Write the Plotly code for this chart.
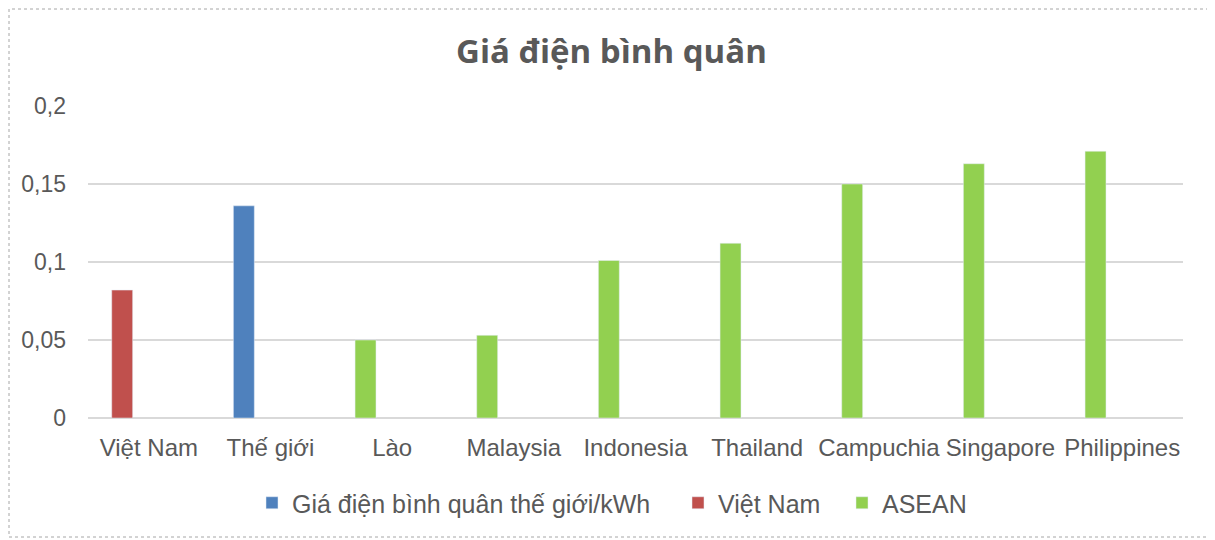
import plotly.graph_objects as go

categories = ["Việt Nam", "Thế giới", "Lào", "Malaysia", "Indonesia",
              "Thailand", "Campuchia", "Singapore", "Philippines"]

world_cats = ["Thế giới"]
world_vals = [0.136]

vn_cats = ["Việt Nam"]
vn_vals = [0.082]

asean_cats = ["Lào", "Malaysia", "Indonesia", "Thailand",
              "Campuchia", "Singapore", "Philippines"]
asean_vals = [0.050, 0.053, 0.101, 0.112, 0.150, 0.163, 0.171]

y_ticks = [0, 0.05, 0.1, 0.15, 0.2]
y_labels = ["0", "0,05", "0,1", "0,15", "0,2"]

BAR_W = 0.172
BAR_OFF = -0.305

# screen px -> paper coords (plot area spans 88..1183 x, 106..418 y)
def px(x):
    return (x - 88) / 1095

def py(y):
    return (418 - y) / 312

fig = go.Figure()
fig.add_trace(go.Bar(name="Giá điện bình quân thế giới/kWh", x=world_cats, y=world_vals,
                     marker_color="#4F81BD", width=BAR_W, offset=BAR_OFF, legend="legend"))
fig.add_trace(go.Bar(name="Việt Nam", x=vn_cats, y=vn_vals,
                     marker_color="#C0504D", width=BAR_W, offset=BAR_OFF, legend="legend2"))
fig.add_trace(go.Bar(name="ASEAN", x=asean_cats, y=asean_vals,
                     marker_color="#92D050", width=BAR_W, offset=BAR_OFF, legend="legend3"))

leg_font = dict(family="Liberation Sans", size=25, color="#595959")
def leg(xs):
    return dict(orientation="h", x=px(xs), xanchor="left", y=py(503), yanchor="middle",
                font=leg_font, itemwidth=30, bgcolor="rgba(0,0,0,0)")

fig.update_layout(
    width=1207, height=532,
    margin=dict(l=80, r=32, t=98, b=122, autoexpand=False),
    paper_bgcolor="white", plot_bgcolor="white",
    barmode="overlay",
    title=dict(text="<b>Giá điện bình quân</b>", x=0.5, xanchor="center",
               y=0.918, yanchor="middle",
               font=dict(family="Open Sans", size=33, color="#595959")),
    font=dict(family="Liberation Sans", color="#595959"),
    showlegend=True,
    legend=leg(252),
    legend2=leg(678),
    legend3=leg(842),
    xaxis=dict(type="category", categoryorder="array", categoryarray=categories,
               range=[-0.5, len(categories) - 0.5], tickangle=0, automargin=False,
               tickfont=dict(family="Liberation Sans", size=24, color="#595959"),
               showgrid=False, showline=False, ticks="", ticklabelstandoff=13),
    yaxis=dict(range=[0, 0.2], tickvals=y_ticks, ticktext=y_labels, automargin=False,
               tickfont=dict(family="Liberation Sans", size=23, color="#595959"),
               showgrid=True, gridcolor="#D9D9D9", gridwidth=2,
               zeroline=True, zerolinecolor="#D9D9D9", zerolinewidth=2,
               showline=False, ticks="", ticklabelstandoff=21),
    shapes=[dict(type="rect", xref="paper", yref="paper",
                 x0=px(9), x1=px(1209), y0=py(537), y1=py(9),
                 line=dict(color="#A6A6A6", width=1, dash="dot"), layer="below")],
)

fig.write_html("out.html")
